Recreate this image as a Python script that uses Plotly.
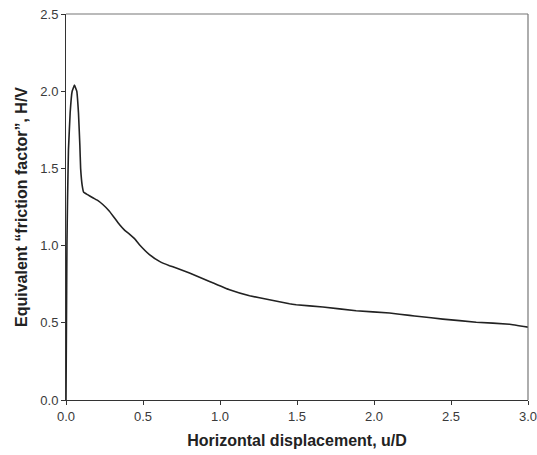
import plotly.graph_objects as go

# Horizontal displacement (u/D) and equivalent friction factor (H/V)
u_over_d = [0.0, 0.003, 0.006, 0.010, 0.016, 0.027, 0.040, 0.055, 0.070, 0.081,
            0.090, 0.095, 0.105, 0.115, 0.140, 0.174, 0.210, 0.239, 0.282, 0.347,
            0.380, 0.412, 0.445, 0.477, 0.542, 0.607, 0.672, 0.716, 0.802, 0.932,
            1.062, 1.192, 1.321, 1.451, 1.495, 1.668, 1.884, 2.101, 2.231, 2.295,
            2.447, 2.664, 2.880, 3.000]
h_over_v = [0.00, 0.50, 1.00, 1.30, 1.62, 1.86, 2.00, 2.04, 2.00, 1.86,
            1.65, 1.50, 1.39, 1.345, 1.33, 1.31, 1.29, 1.266, 1.223, 1.136,
            1.100, 1.075, 1.045, 1.006, 0.942, 0.898, 0.870, 0.855, 0.823, 0.768,
            0.714, 0.675, 0.649, 0.623, 0.617, 0.602, 0.578, 0.563, 0.548, 0.541,
            0.524, 0.504, 0.491, 0.472]

x_ticks = [0.0, 0.5, 1.0, 1.5, 2.0, 2.5, 3.0]
y_ticks = [0.0, 0.5, 1.0, 1.5, 2.0, 2.5]

fig = go.Figure()
fig.add_trace(go.Scatter(
    x=u_over_d, y=h_over_v, mode="lines",
    line=dict(color="#222222", width=1.6, shape="spline", smoothing=0.2),
    hoverinfo="skip", showlegend=False,
))

font = "Liberation Sans, Arial, sans-serif"
fig.update_layout(
    width=537, height=455,
    margin=dict(l=66, r=9, t=14, b=55),
    paper_bgcolor="white", plot_bgcolor="white",
    font=dict(family=font, color="#3a3a3a", size=13),
    xaxis=dict(
        range=[0, 3.0], tickvals=x_ticks, ticktext=[f"{v:.1f}" for v in x_ticks],
        showgrid=False, zeroline=False, showline=True, linecolor="#333333",
        linewidth=1, ticks="outside", ticklen=4, tickcolor="#333333",
        ticklabeloverflow="allow",
        title=dict(text="<b>Horizontal displacement, u/D</b>",
                   font=dict(size=16, color="#222222"), standoff=12),
        automargin=False,
    ),
    yaxis=dict(
        range=[0, 2.5], tickvals=y_ticks, ticktext=[f"{v:.1f}" for v in y_ticks],
        showgrid=False, zeroline=False, showline=True, linecolor="#333333",
        linewidth=1, ticks="outside", ticklen=4, tickcolor="#333333",
        ticklabeloverflow="allow",
        title=dict(text="<b>Equivalent \u201cfriction factor\u201d, H/V</b>",
                   font=dict(size=16, color="#222222"), standoff=8),
        automargin=False,
    ),
    shapes=[
        dict(type="line", xref="paper", yref="paper", x0=0, x1=1, y0=1, y1=1,
             line=dict(color="#777777", width=1.2)),
        dict(type="line", xref="paper", yref="paper", x0=1, x1=1, y0=0, y1=1,
             line=dict(color="#777777", width=1.2)),
    ],
)

fig.write_html("out.html")
